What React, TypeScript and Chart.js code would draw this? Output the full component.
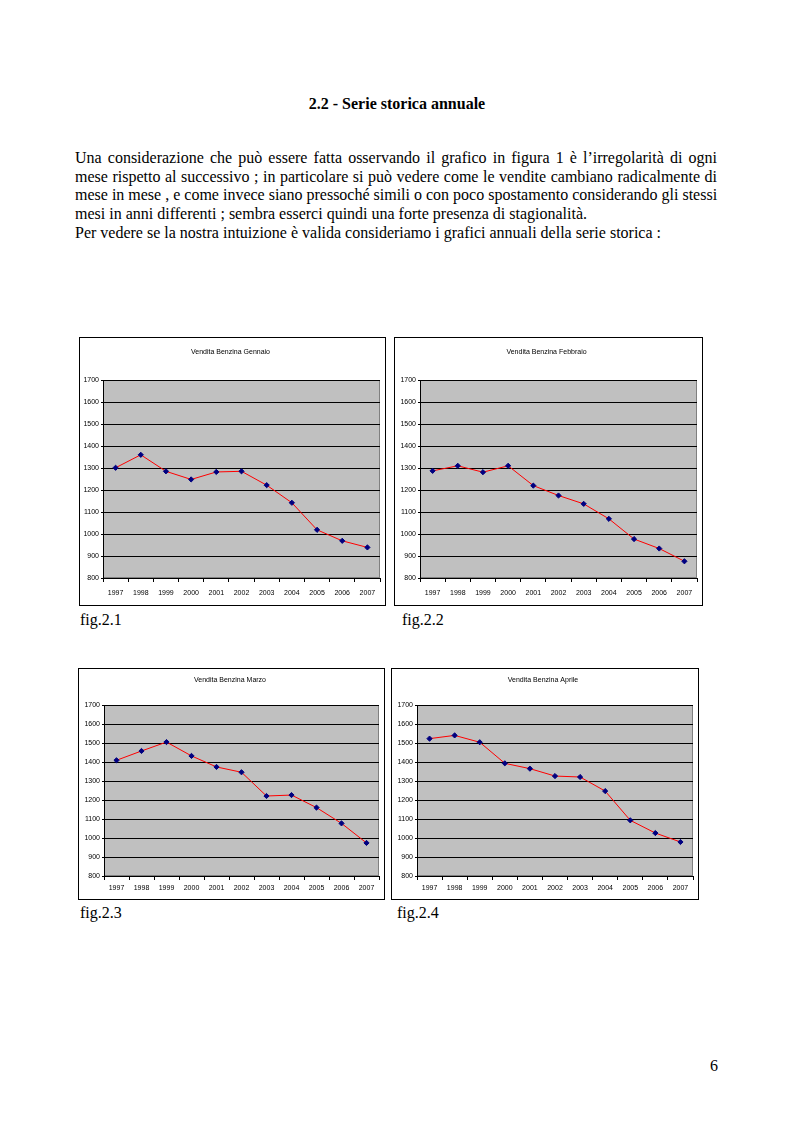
import React, { useEffect, useRef } from "react";
import { Chart, registerables } from "chart.js";

Chart.register(...registerables);

const years = ["1997", "1998", "1999", "2000", "2001", "2002", "2003", "2004", "2005", "2006", "2007"];
const gennaio = [1301, 1360, 1285, 1248, 1282, 1285, 1222, 1142, 1019, 969, 939];
const febbraio = [1287, 1310, 1281, 1310, 1220, 1175, 1137, 1069, 977, 934, 876];
const marzo = [1409, 1458, 1505, 1432, 1374, 1346, 1221, 1226, 1160, 1077, 974];
const aprile = [1523, 1540, 1504, 1393, 1365, 1326, 1321, 1247, 1093, 1026, 979];
const yMin = 800;
const yMax = 1700;
const yStep = 100;

const tickFamily = "'Liberation Sans Narrow', 'Liberation Sans', Arial, sans-serif";
const titleFamily = "'Liberation Sans', Arial, sans-serif";

type Box = { left: number; top: number; width: number; height: number };
type Plot = { left: number; top: number; right: number; bottom: number };

const plotBg = {
  id: "plotBg",
  beforeDraw(chart: any) {
    const { ctx, chartArea } = chart;
    ctx.save();
    ctx.fillStyle = "#c0c0c0";
    ctx.fillRect(chartArea.left, chartArea.top, chartArea.right - chartArea.left, chartArea.bottom - chartArea.top);
    ctx.strokeStyle = "#808080";
    ctx.lineWidth = 1;
    ctx.strokeRect(chartArea.left + 0.5, chartArea.top + 0.5, chartArea.right - chartArea.left - 1, chartArea.bottom - chartArea.top - 1);
    ctx.restore();
  },
};

function LineChart(props: { title: string; values: number[]; box: Box; plot: Plot; titleY: number; labelY: number }) {
  const { title, values, box, plot, titleY, labelY } = props;
  const ref = useRef<HTMLCanvasElement>(null);
  const w = box.width - 2;
  const h = box.height - 2;
  useEffect(() => {
    const cx = box.left + 1;
    const cy = box.top + 1;
    const pl = plot.left - cx;
    const pt = plot.top - cy;
    const pr = plot.right - cx;
    const pb = plot.bottom - cy;
    const tSize = 7;
    const tPadTop = titleY - cy - tSize / 2;
    const tPadBottom = pt - tSize - tPadTop;
    const tickLen = 4;
    const lh = 7 * 1.2;
    const xPad = labelY - plot.bottom - tickLen - lh / 2;
    const chart = new Chart(ref.current as HTMLCanvasElement, {
      type: "line",
      data: {
        labels: years,
        datasets: [
          {
            data: values,
            borderColor: "#ff0000",
            borderWidth: 1,
            tension: 0,
            pointStyle: "rectRot",
            pointRadius: 2.6,
            pointBackgroundColor: "#000080",
            pointBorderColor: "#000080",
            pointBorderWidth: 1,
          },
        ],
      },
      options: {
        animation: false,
        responsive: false,
        maintainAspectRatio: false,
        devicePixelRatio: 1,
        layout: { padding: { left: 0, right: w - pr, top: 0, bottom: 0 } },
        plugins: {
          legend: { display: false },
          tooltip: { enabled: false },
          title: {
            display: true,
            text: title,
            color: "#000",
            font: { family: titleFamily, size: tSize, lineHeight: 1, weight: "normal" },
            padding: { top: tPadTop, bottom: tPadBottom },
          },
        },
        scales: {
          x: {
            offset: true,
            grid: { offset: true, drawOnChartArea: false, drawTicks: true, tickLength: tickLen, color: "#000" },
            border: { color: "#000" },
            ticks: { color: "#000", font: { family: tickFamily, size: 7 }, padding: xPad, maxRotation: 0, autoSkip: false },
            afterFit: (s: any) => {
              s.height = h - pb;
            },
          },
          y: {
            min: yMin,
            max: yMax,
            ticks: {
              stepSize: yStep,
              color: "#000",
              font: { family: tickFamily, size: 7 },
              padding: 2,
              callback: (v: any) => String(v),
            },
            grid: { color: "#000", tickLength: 2 },
            border: { color: "#000" },
            afterFit: (s: any) => {
              s.width = pl;
            },
          },
        },
      },
      plugins: [plotBg],
    } as any);
    return () => chart.destroy();
  }, []);
  return (
    <div
      style={{
        position: "absolute",
        left: box.left,
        top: box.top,
        width: w,
        height: h,
        border: "1px solid #000",
        background: "#fff",
      }}
    >
      <canvas ref={ref} width={w} height={h} style={{ display: "block", width: w, height: h }} />
    </div>
  );
}

const serif = "'Liberation Serif', 'Times New Roman', serif";

function Txt(props: { x: number; y: number; children: any; style?: any }) {
  return (
    <div style={{ position: "absolute", left: props.x, top: props.y - 9, fontSize: 16, lineHeight: "18px", whiteSpace: "nowrap", fontFamily: serif, ...props.style }}>
      {props.children}
    </div>
  );
}

function JLine(props: { y: number; text: string; justify: boolean }) {
  return (
    <div
      style={{
        position: "absolute",
        left: 75,
        top: props.y - 9,
        width: 642,
        fontSize: 16,
        lineHeight: "18px",
        fontFamily: serif,
        whiteSpace: "nowrap",
        textAlign: props.justify ? "justify" : "left",
        textAlignLast: props.justify ? "justify" : "left",
      } as any}
    >
      {props.text}
    </div>
  );
}

export default function App() {
  return (
    <div style={{ position: "absolute", left: 0, top: 0, width: 794, height: 1123, background: "#fff", fontFamily: serif, color: "#000" }}>
      <div style={{ position: "absolute", left: 0, width: 794, top: 95, textAlign: "center", fontSize: 16, lineHeight: "18px", fontWeight: "bold", fontFamily: serif }}>
        2.2 - Serie storica annuale
      </div>
      <JLine y={158} justify text="Una considerazione che può essere fatta osservando il grafico in figura 1 è l’irregolarità di ogni" />
      <JLine y={177} justify text="mese rispetto al successivo ; in particolare si può vedere come le vendite cambiano radicalmente di" />
      <JLine y={195} justify text="mese in mese , e come invece siano pressoché simili o con poco spostamento considerando gli stessi" />
      <JLine y={214} justify={false} text="mesi in anni differenti ; sembra esserci quindi una forte presenza di stagionalità." />
      <JLine y={233} justify={false} text="Per vedere se la nostra intuizione è valida consideriamo i grafici annuali della serie storica :" />

      <LineChart title="Vendita Benzina Gennaio" values={gennaio} box={{ left: 79, top: 337, width: 307, height: 269 }} plot={{ left: 103, top: 380, right: 381, bottom: 578 }} titleY={352} labelY={593} />
      <LineChart title="Vendita Benzina Febbraio" values={febbraio} box={{ left: 394, top: 337, width: 309, height: 269 }} plot={{ left: 420, top: 380, right: 698, bottom: 578 }} titleY={352} labelY={593} />
      <LineChart title="Vendita Benzina Marzo" values={marzo} box={{ left: 78, top: 668, width: 307, height: 232 }} plot={{ left: 104, top: 705, right: 381, bottom: 876 }} titleY={680} labelY={888} />
      <LineChart title="Vendita Benzina Aprile" values={aprile} box={{ left: 391, top: 668, width: 308, height: 232 }} plot={{ left: 417, top: 705, right: 694, bottom: 876 }} titleY={680} labelY={888} />

      <Txt x={80} y={620}>fig.2.1</Txt>
      <Txt x={402} y={620}>fig.2.2</Txt>
      <Txt x={80} y={913}>fig.2.3</Txt>
      <Txt x={397} y={913}>fig.2.4</Txt>
      <Txt x={710} y={1066}>6</Txt>
    </div>
  );
}
